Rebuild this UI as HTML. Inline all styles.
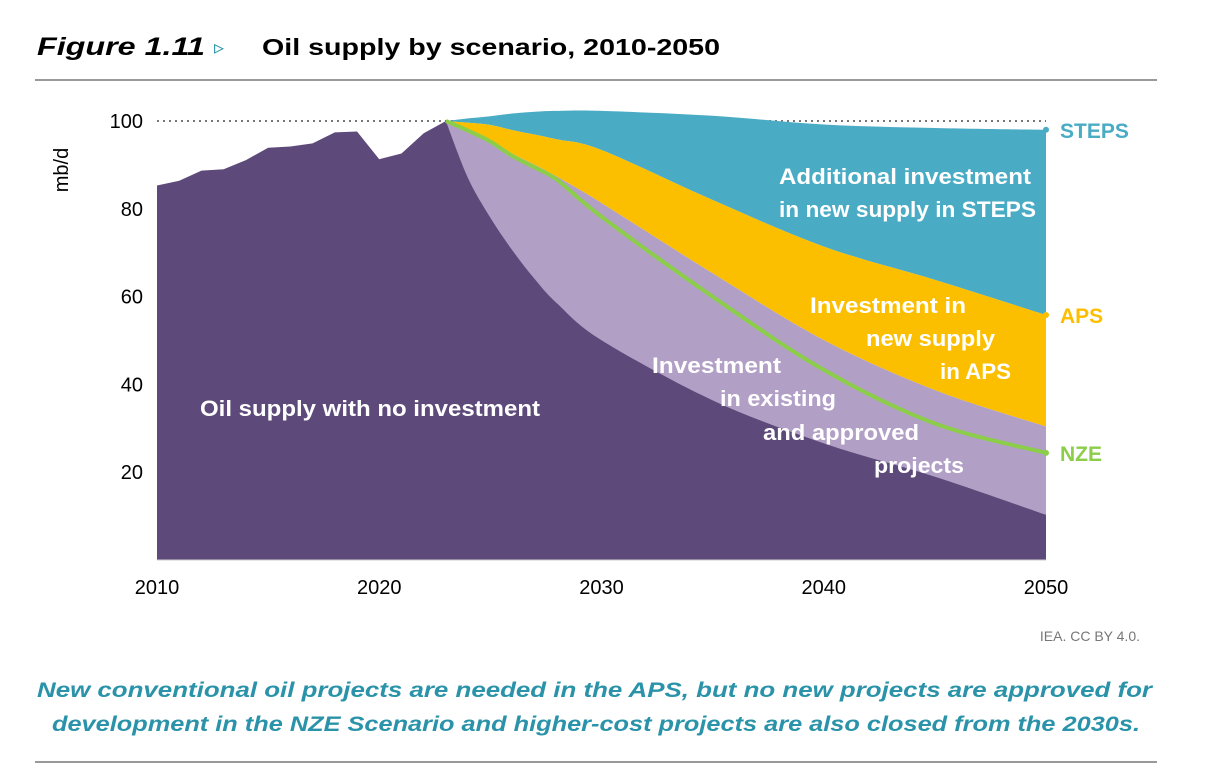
<!DOCTYPE html>
<html><head><meta charset="utf-8"><style>
body{margin:0;background:#fff;width:1230px;height:784px;overflow:hidden;font-family:"Liberation Sans",sans-serif}
svg{position:absolute;left:0;top:0}
</style></head><body>
<svg width="1230" height="784">
<text x="37" y="55" font-size="25" font-weight="bold" font-style="italic" fill="#000" textLength="168" lengthAdjust="spacingAndGlyphs">Figure 1.11</text>
<text x="214" y="54" font-size="20" fill="#2a93a9">▹</text>
<text x="262" y="55" font-size="23" font-weight="bold" fill="#000" textLength="458" lengthAdjust="spacingAndGlyphs">Oil supply by scenario, 2010-2050</text>
<line x1="35" y1="80" x2="1157" y2="80" stroke="#999" stroke-width="2"/>
<g id="plot"></g>
<text transform="translate(68,170) rotate(-90)" font-size="20" text-anchor="middle">mb/d</text>
<text x="1140" y="641" font-size="14" fill="#777" text-anchor="end">IEA. CC BY 4.0.</text>
<text x="37" y="697" font-size="21" font-weight="bold" font-style="italic" fill="#2a93a9" textLength="1115" lengthAdjust="spacingAndGlyphs">New conventional oil projects are needed in the APS, but no new projects are approved for</text>
<text x="52" y="731" font-size="21" font-weight="bold" font-style="italic" fill="#2a93a9" textLength="1088" lengthAdjust="spacingAndGlyphs">development in the NZE Scenario and higher-cost projects are also closed from the 2030s.</text>
<line x1="35" y1="762" x2="1157" y2="762" stroke="#999" stroke-width="2"/>
</svg>
<script>
const histYears=[2010,2011,2012,2013,2014,2015,2016,2017,2018,2019,2020,2021,2022,2023];
const histValues=[85.3,86.4,88.7,89.0,91.1,93.9,94.2,94.9,97.4,97.6,91.3,92.6,97.2,100];
const projYears=[2023,2024,2025,2026,2027,2028,2030,2035,2040,2045,2050];
const stepsValues=[100,100.6,101.1,101.7,102.1,102.3,102.3,101.2,99.2,98.4,98.0];
const apsValues=[100,99.6,99.1,97.9,96.9,95.8,93.4,82.0,71.4,63.8,55.8];
const existingValues=[100,98.0,95.6,92.5,90.0,87.3,81.3,65.3,50.1,38.7,30.4];
const nzeValues=[100,97.8,95.3,92.0,89.4,86.6,78.2,60.0,43.3,31.1,24.4];
const noInvestValues=[100,87,78,70.5,64,58.5,50.1,36.4,26.6,19.0,10.3];
const yTicks=[20,40,60,80,100];
const xTicks=[2010,2020,2030,2040,2050];

const NS="http://www.w3.org/2000/svg";
const g=document.getElementById('plot');
const X=yr=>157+(yr-2010)*(1046-157)/40;
const Y=v=>560-v*4.39;
function mk(tag,attrs){const e=document.createElementNS(NS,tag);for(const k in attrs)e.setAttribute(k,attrs[k]);g.appendChild(e);return e;}
function P(ys,vs){return ys.map((y,i)=>[X(y),Y(vs[i])]);}
function smooth(p){let d='';for(let i=0;i<p.length-1;i++){const p0=p[Math.max(0,i-1)],p1=p[i],p2=p[i+1],p3=p[Math.min(p.length-1,i+2)];
const c1=[p1[0]+(p2[0]-p0[0])/6,p1[1]+(p2[1]-p0[1])/6],c2=[p2[0]-(p3[0]-p1[0])/6,p2[1]-(p3[1]-p1[1])/6];
d+=' C'+c1.map(v=>v.toFixed(1))+' '+c2.map(v=>v.toFixed(1))+' '+p2.map(v=>v.toFixed(1));}return d;}
function band(top,bot){const a=P(projYears,top),b=P(projYears,bot).reverse();return 'M'+a[0]+smooth(a)+' L'+b[0]+smooth(b)+'Z';}

let e;
e=mk('line',{x1:157,y1:Y(100),x2:1046,y2:Y(100),stroke:'#777','stroke-width':2,'stroke-dasharray':'2 4'});


e=mk('path',{d:band(stepsValues,apsValues),fill:'#4aabc5'});


e=mk('path',{d:band(apsValues,existingValues),fill:'#fcbf00'});


e=mk('path',{d:band(existingValues,noInvestValues),fill:'#b19fc6'});


const hp=P(histYears,histValues), np=P(projYears,noInvestValues);
e=mk('path',{d:'M'+X(2010)+','+Y(0)+'L'+hp.join('L')+smooth(np)+'L'+X(2050)+','+Y(0)+'Z',fill:'#5e4a7a'});


const zp=P(projYears,nzeValues);
e=mk('path',{d:'M'+zp[0]+smooth(zp),fill:'none',stroke:'#8ccd4a','stroke-width':4,'stroke-linejoin':'round'});


e=mk('line',{x1:157,y1:560,x2:1046,y2:560,stroke:'#ccc','stroke-width':1});



yTicks.forEach(v=>{const t=mk('text',{x:143,y:Y(v)+7,'font-size':20,'text-anchor':'end'});t.textContent=v;

});
xTicks.forEach(v=>{const t=mk('text',{x:X(v),y:594,'font-size':20,'text-anchor':'middle'});t.textContent=v;

});

const endLabels=[['STEPS',stepsValues,'#4aabc5'],['APS',apsValues,'#fcbf00'],['NZE',nzeValues,'#8ccd4a']];
endLabels.forEach(([n,vs,c])=>{const v=vs[vs.length-1];
const d=mk('circle',{cx:1046,cy:Y(v),r:3,fill:c});


const t=mk('text',{x:1060,y:Y(v)+8,'font-size':21,'font-weight':'bold',fill:c});t.textContent=n;

});

function lbl(s,x,y,len,name){const t=mk('text',{x:x,y:y,'font-size':22,'font-weight':'bold',fill:'#fff',textLength:len,lengthAdjust:'spacingAndGlyphs'});t.textContent=s;

}
lbl('Oil supply with no investment',200,416,340,'no-investment-label');
lbl('Additional investment',779,184,252,'steps-area-label');
lbl('in new supply in STEPS',779,217,257,'steps-area-label');
lbl('Investment in',810,313,156,'aps-area-label');
lbl('new supply',866,346,129,'aps-area-label');
lbl('in APS',940,379,71,'aps-area-label');
lbl('Investment',652,373,129,'existing-area-label');
lbl('in existing',720,406,116,'existing-area-label');
lbl('and approved',763,440,156,'existing-area-label');
lbl('projects',874,473,90,'existing-area-label');
</script>
</body></html>
